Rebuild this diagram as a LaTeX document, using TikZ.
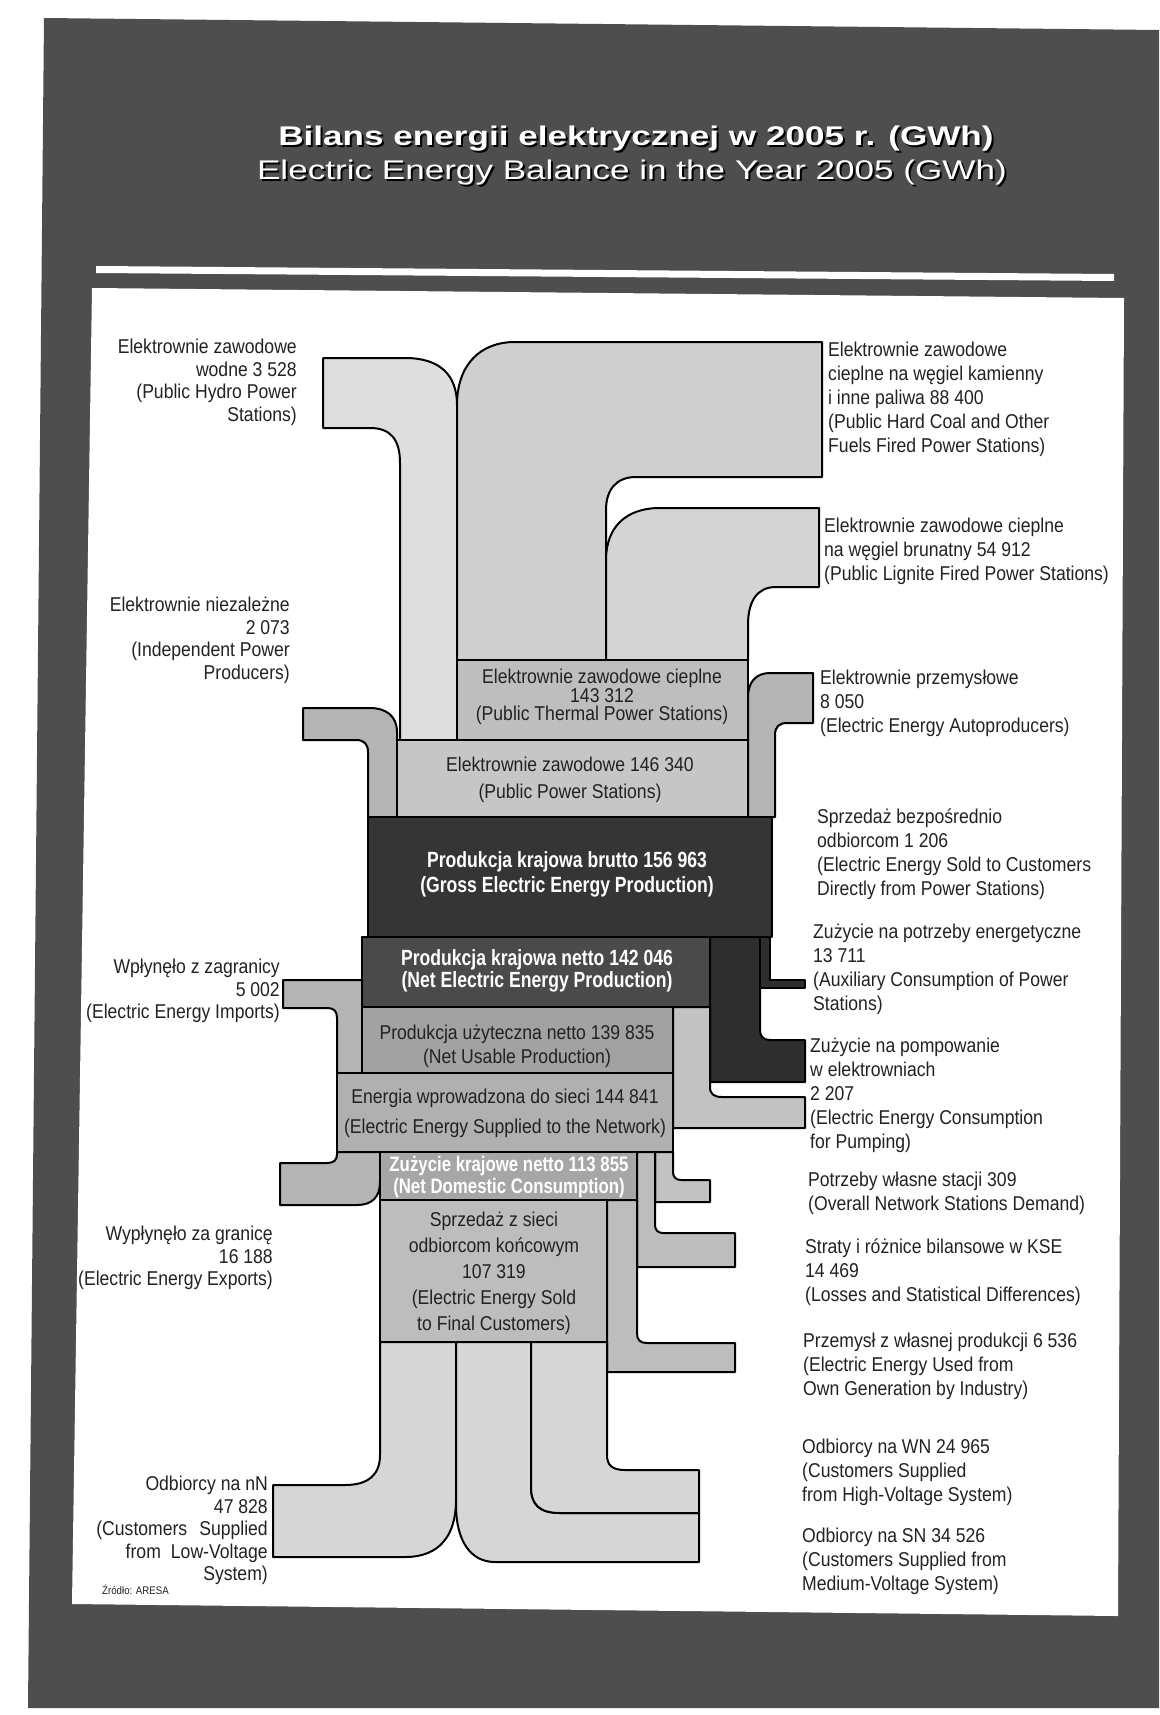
\documentclass[tikz,border=0pt]{standalone}
\usepackage{fontspec}
\setmainfont{Liberation Sans}
\newfontfamily\lblfont[FakeStretch=0.88]{Liberation Sans}
\newfontfamily\bxfont[FakeStretch=0.8]{Liberation Sans}
\newfontfamily\ttlfont[FakeStretch=1.3]{Liberation Sans}
\definecolor{framec}{HTML}{4E4E4E}
\definecolor{hydroc}{HTML}{DEDEDE}
\definecolor{coalc}{HTML}{CFCFCF}
\definecolor{lignc}{HTML}{D4D4D4}
\definecolor{thermc}{HTML}{BEBEBE}
\definecolor{publc}{HTML}{C6C6C6}
\definecolor{sidec}{HTML}{B4B4B4}
\definecolor{grossc}{HTML}{353535}
\definecolor{netc}{HTML}{4A4A4A}
\definecolor{auxc}{HTML}{2E2E2E}
\definecolor{usablec}{HTML}{A2A2A2}
\definecolor{supplc}{HTML}{B0B0B0}
\definecolor{domc}{HTML}{A6A6A6}
\definecolor{salesc}{HTML}{BDBDBD}
\definecolor{pumpc}{HTML}{C2C2C2}
\definecolor{custc}{HTML}{D6D6D6}
\definecolor{txtc}{HTML}{222222}
\begin{document}
\begin{tikzpicture}[x=1pt,y=-1pt,
  skband/.style={draw=black, line width=2pt, line join=round},
  lbl/.style={font=\lblfont\fontsize{20}{24}\selectfont, inner sep=0pt, text=txtc},
  lblL/.style={lbl, font=\lblfont\fontsize{20}{22.5}\selectfont, align=right, anchor=north east},
  lblR/.style={lbl, align=left, anchor=north west},
  boxtxt/.style={inner sep=0pt, align=center, anchor=north, text=txtc},
  boldtxt/.style={inner sep=0pt, align=center, anchor=north, text=white},
  ttl/.style={inner sep=0pt, anchor=center}]
\useasboundingbox (0,0) rectangle (1159,1715);
\fill[white] (0,0) rectangle (1159,1715);
% dark frame
\fill[framec] (44,18) -- (1159,30) -- (1159,1708) -- (28,1708) -- cycle;
% white rule
\fill[white] (96,266) -- (1114,274) -- (1114,281) -- (96,273) -- cycle;
% white panel
\fill[white] (92,288) -- (1124,298) -- (1118,1616) -- (72,1604) -- cycle;

% title
\node[ttl, text=black] (t1s) at (638,141) {\ttlfont\bfseries\fontsize{27}{32}\selectfont Bilans energii elektrycznej w 2005 r. (GWh)};
\node[ttl, text=white] (t1) at (636,139) {\ttlfont\bfseries\fontsize{27}{32}\selectfont Bilans energii elektrycznej w 2005 r. (GWh)};
\node[ttl, text=black] (t2s) at (634,175) {\ttlfont\fontsize{27}{32}\selectfont Electric Energy Balance in the Year 2005 (GWh)};
\node[ttl, text=white] (t2) at (632,173) {\ttlfont\fontsize{27}{32}\selectfont Electric Energy Balance in the Year 2005 (GWh)};

% upper flows
\path[skband, fill=hydroc] (323,358) -- (405,358) .. controls (440,358) and (457,375) .. (457,405) -- (457,740) -- (400,740) -- (400,463) .. controls (400,440) and (391,428) .. (370,428) -- (323,428) -- cycle;
\path[skband, fill=coalc] (457,405) .. controls (457,365) and (480,342) .. (515,342) -- (822,342) -- (822,477) -- (636,477) .. controls (616,477) and (606,490) .. (606,510) -- (606,660) -- (457,660) -- cycle;
\path[skband, fill=lignc] (606,560) .. controls (606,528) and (625,508) .. (660,508) -- (819,508) -- (819,587) -- (776,587) .. controls (758,587) and (748,600) .. (748,625) -- (748,660) -- (606,660) -- cycle;
\path[skband, fill=sidec] (303,708) -- (370,708) .. controls (386,708) and (397,716) .. (397,732) -- (397,817) -- (368,817) -- (368,752) .. controls (368,744) and (364,740) .. (356,740) -- (303,740) -- cycle;
\path[skband, fill=sidec] (813,673) -- (770,673) .. controls (756,673) and (748,682) .. (748,697) -- (748,817) -- (775,817) -- (775,735) .. controls (775,727) and (779,723) .. (787,723) -- (813,723) -- cycle;
\path[skband, fill=thermc] (457,660) rectangle (748,740);
\path[skband, fill=publc] (397,740) rectangle (748,817);

% production blocks
\path[skband, fill=grossc] (368,817) rectangle (772,937);
\path[skband, fill=auxc] (710,937) -- (760,937) -- (760,1030) .. controls (760,1036) and (763,1040) .. (770,1040) -- (805,1040) -- (805,1082) -- (710,1082) -- cycle;
\path[skband, fill=auxc] (760,937) -- (770,937) -- (770,980) -- (805,980) -- (805,988) -- (760,988) -- cycle;
\path[skband, fill=netc] (362,937) rectangle (710,1007);
\path[skband, fill=pumpc] (673,1007) -- (710,1007) -- (710,1087) .. controls (710,1094) and (714,1097) .. (722,1097) -- (805,1097) -- (805,1128) -- (673,1128) -- cycle;
\path[skband, fill=sidec] (283,980) -- (362,980) -- (362,1073) -- (337,1073) -- (337,1018) .. controls (337,1011) and (334,1008) .. (327,1008) -- (283,1008) -- cycle;
\path[skband, fill=usablec] (362,1007) rectangle (673,1073);
\path[skband, fill=supplc] (337,1073) rectangle (673,1152);

% network outflows
\path[skband, fill=sidec] (337,1152) -- (380,1152) -- (380,1182) .. controls (380,1197) and (372,1205) .. (357,1205) -- (280,1205) -- (280,1163) -- (327,1163) .. controls (334,1163) and (337,1160) .. (337,1154) -- cycle;
\path[skband, fill=pumpc] (655,1152) -- (673,1152) -- (673,1172) .. controls (673,1177) and (676,1180) .. (681,1180) -- (710,1180) -- (710,1202) -- (655,1202) -- cycle;
\path[skband, fill=salesc] (637,1152) -- (655,1152) -- (655,1225) .. controls (655,1230) and (658,1233) .. (663,1233) -- (735,1233) -- (735,1267) -- (637,1267) -- cycle;
\path[skband, fill=salesc] (607,1200) -- (637,1200) -- (637,1333) .. controls (637,1340) and (640,1343) .. (647,1343) -- (735,1343) -- (735,1372) -- (607,1372) -- cycle;
\path[skband, fill=domc] (380,1152) rectangle (637,1200);
\path[skband, fill=salesc] (380,1200) rectangle (607,1342);

% customers
\path[skband, fill=custc] (380,1342) -- (456,1342) -- (456,1500) .. controls (456,1535) and (440,1557) .. (405,1557) -- (273,1557) -- (273,1485) -- (345,1485) .. controls (368,1485) and (380,1475) .. (380,1455) -- cycle;
\path[skband, fill=custc] (456,1342) -- (531,1342) -- (531,1487) .. controls (531,1505) and (540,1513) .. (560,1513) -- (699,1513) -- (699,1562) -- (495,1562) .. controls (470,1562) and (456,1540) .. (456,1505) -- cycle;
\path[skband, fill=custc] (531,1342) -- (607,1342) -- (607,1455) .. controls (607,1465) and (612,1470) .. (625,1470) -- (699,1470) -- (699,1513) -- (560,1513) .. controls (540,1513) and (531,1505) .. (531,1487) -- cycle;

% texts inside blocks
\node[boxtxt, font=\lblfont\fontsize{20}{18.5}\selectfont] (bTherm) at (602,669) {Elektrownie zawodowe cieplne\\143 312\\(Public Thermal Power Stations)};
\node[boxtxt, font=\lblfont\fontsize{20}{27}\selectfont] (bPubl) at (570,757) {Elektrownie zawodowe 146 340\\(Public Power Stations)};
\node[boldtxt, font=\bxfont\bfseries\fontsize{22}{25}\selectfont] (bGross) at (567,851) {Produkcja krajowa brutto 156 963\\(Gross Electric Energy Production)};
\node[boldtxt, font=\bxfont\bfseries\fontsize{22}{22}\selectfont] (bNet) at (537,949) {Produkcja krajowa netto 142 046\\(Net Electric Energy Production)};
\node[boxtxt, font=\lblfont\fontsize{20}{24}\selectfont] (bUsable) at (517,1025) {Produkcja użyteczna netto 139 835\\(Net Usable Production)};
\node[boxtxt, font=\lblfont\fontsize{20}{30}\selectfont] (bSuppl) at (505,1089) {Energia wprowadzona do sieci 144 841\\(Electric Energy Supplied to the Network)};
\node[boldtxt, font=\bxfont\bfseries\fontsize{21}{22}\selectfont] (bDom) at (509,1156) {Zużycie krajowe netto 113 855\\(Net Domestic Consumption)};
\node[boxtxt, font=\lblfont\fontsize{20}{26}\selectfont] (bSales) at (494,1212) {Sprzedaż z sieci\\odbiorcom końcowym\\107 319\\(Electric Energy Sold\\to Final Customers)};

% left labels
\node[lblL] (lHydro) at (297,339) {Elektrownie zawodowe\\wodne 3 528\\(Public Hydro Power\\Stations)};
\node[lblL] (lIndep) at (290,597) {Elektrownie niezależne\\2 073\\(Independent Power\\Producers)};
\node[lblL] (lImp) at (280,959) {Wpłynęło z zagranicy\\5 002\\(Electric Energy Imports)};
\node[lblL] (lExp) at (273,1226) {Wypłynęło za granicę\\16 188\\(Electric Energy Exports)};
\node[lblL] (lLV) at (268,1476) {Odbiorcy na nN\\47 828\\(Customers\hspace{12pt}Supplied\\from\hspace{10pt}Low-Voltage\\System)};
\node[lbl, anchor=west, font=\lblfont\fontsize{11}{13}\selectfont] (lSrc) at (102,1590) {Źródło: ARESA};

% right labels
\node[lblR] (rCoal) at (828,342) {Elektrownie zawodowe\\cieplne na węgiel kamienny\\i inne paliwa 88 400\\(Public Hard Coal and Other\\Fuels Fired Power Stations)};
\node[lblR] (rLign) at (824,518) {Elektrownie zawodowe cieplne\\na węgiel brunatny 54 912\\(Public Lignite Fired Power Stations)};
\node[lblR] (rAuto) at (820,670) {Elektrownie przemysłowe\\8 050\\(Electric Energy Autoproducers)};
\node[lblR] (rDirect) at (817,809) {Sprzedaż bezpośrednio\\odbiorcom 1 206\\(Electric Energy Sold to Customers\\Directly from Power Stations)};
\node[lblR] (rAux) at (813,924) {Zużycie na potrzeby energetyczne\\13 711\\(Auxiliary Consumption of Power\\Stations)};
\node[lblR] (rPump) at (810,1038) {Zużycie na pompowanie\\w elektrowniach\\2 207\\(Electric Energy Consumption\\for Pumping)};
\node[lblR] (rOwn) at (808,1172) {Potrzeby własne stacji 309\\(Overall Network Stations Demand)};
\node[lblR] (rLoss) at (805,1239) {Straty i różnice bilansowe w KSE\\14 469\\(Losses and Statistical Differences)};
\node[lblR] (rInd) at (803,1333) {Przemysł z własnej produkcji 6 536\\(Electric Energy Used from\\Own Generation by Industry)};
\node[lblR] (rHV) at (802,1439) {Odbiorcy na WN 24 965\\(Customers Supplied\\from High-Voltage System)};
\node[lblR] (rMV) at (802,1528) {Odbiorcy na SN 34 526\\(Customers Supplied from\\Medium-Voltage System)};
\end{tikzpicture}
\end{document}
